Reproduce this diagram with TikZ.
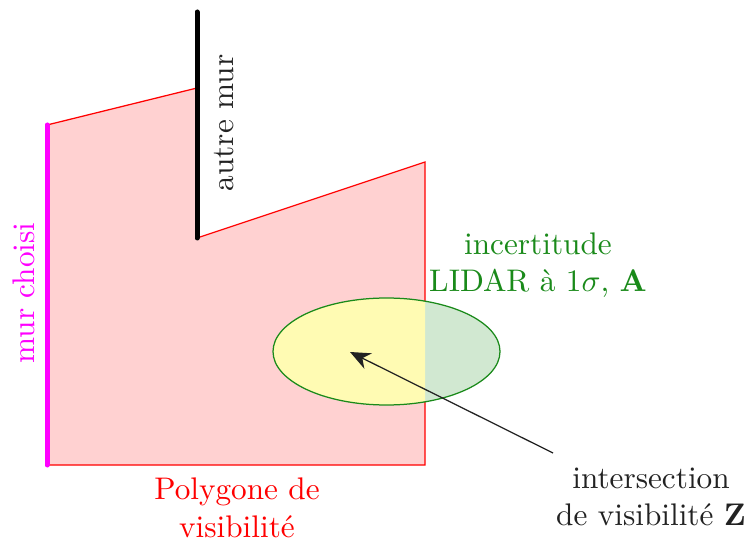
\documentclass[tikz,border=0pt]{standalone}
\usepackage{amsmath,amssymb}
\usepackage{tikz}
\usetikzlibrary{positioning,arrows.meta,calc}
\usepackage{xcolor}

\begin{document}
\begin{tikzpicture}[x=0.32pt,y=-0.32pt]
  \definecolor{lidargreen}{HTML}{1A8A1A}
  \definecolor{inkgray}{HTML}{222222}
  \definecolor{wallmag}{HTML}{FF00FF}
  \tikzset{
    wall/.style={line width=1.6pt, line cap=round},
    lbl/.style={align=center, font=\normalsize},
  }
  \useasboundingbox (0,0) rectangle (748,545);

  % polygone de visibilite
  \coordinate (p1) at (47,125);
  \coordinate (p2) at (197,88);
  \coordinate (p3) at (197,238);
  \coordinate (p4) at (425,162);
  \coordinate (p5) at (425,465);
  \coordinate (p6) at (47,465);
  \filldraw[fill=red!18, draw=red, line width=0.4pt] (p1) -- (p2) -- (p3) -- (p4) -- (p5) -- (p6) -- cycle;

  % incertitude et intersection
  \coordinate (ctr) at (386.5,351.5);
  \fill[lidargreen!20] (ctr) ellipse (113.5 and 53.5);
  \begin{scope}
    \clip (p1) -- (p2) -- (p3) -- (p4) -- (p5) -- (p6) -- cycle;
    \fill[yellow!30] (ctr) ellipse (113.5 and 53.5);
  \end{scope}
  \draw[lidargreen, line width=0.4pt] (ctr) ellipse (113.5 and 53.5);

  % murs
  \coordinate (wa) at (47,125);
  \coordinate (wb) at (47,465);
  \draw[wall, wallmag] (wa) -- (wb);
  \coordinate (wc) at (197,12);
  \coordinate (wd) at (197,238);
  \draw[wall, black] (wc) -- (wd);

  \node[lbl, rotate=90, text=inkgray] (autre) at (224,123) {autre mur};
  \node[lbl, rotate=90, text=wallmag] (choisi) at (24,293) {mur choisi};
  \node[lbl, text=lidargreen] (incert) at (538,265) {incertitude\\LIDAR \`a $1\sigma$, $\mathbf{A}$};
  \node[lbl, text=inkgray] (inter) at (651,497) {intersection\\de visibilit\'e $\mathbf{Z}$};
  \node[lbl, text=red] (poly) at (237,508) {Polygone de\\visibilit\'e};

  \coordinate (tail) at (553,453);
  \coordinate (tip) at (350,352);
  \draw[-{Stealth[length=6.5pt,width=5.5pt]}, inkgray, line width=0.4pt] (tail) -- (tip);

\end{tikzpicture}
\end{document}
